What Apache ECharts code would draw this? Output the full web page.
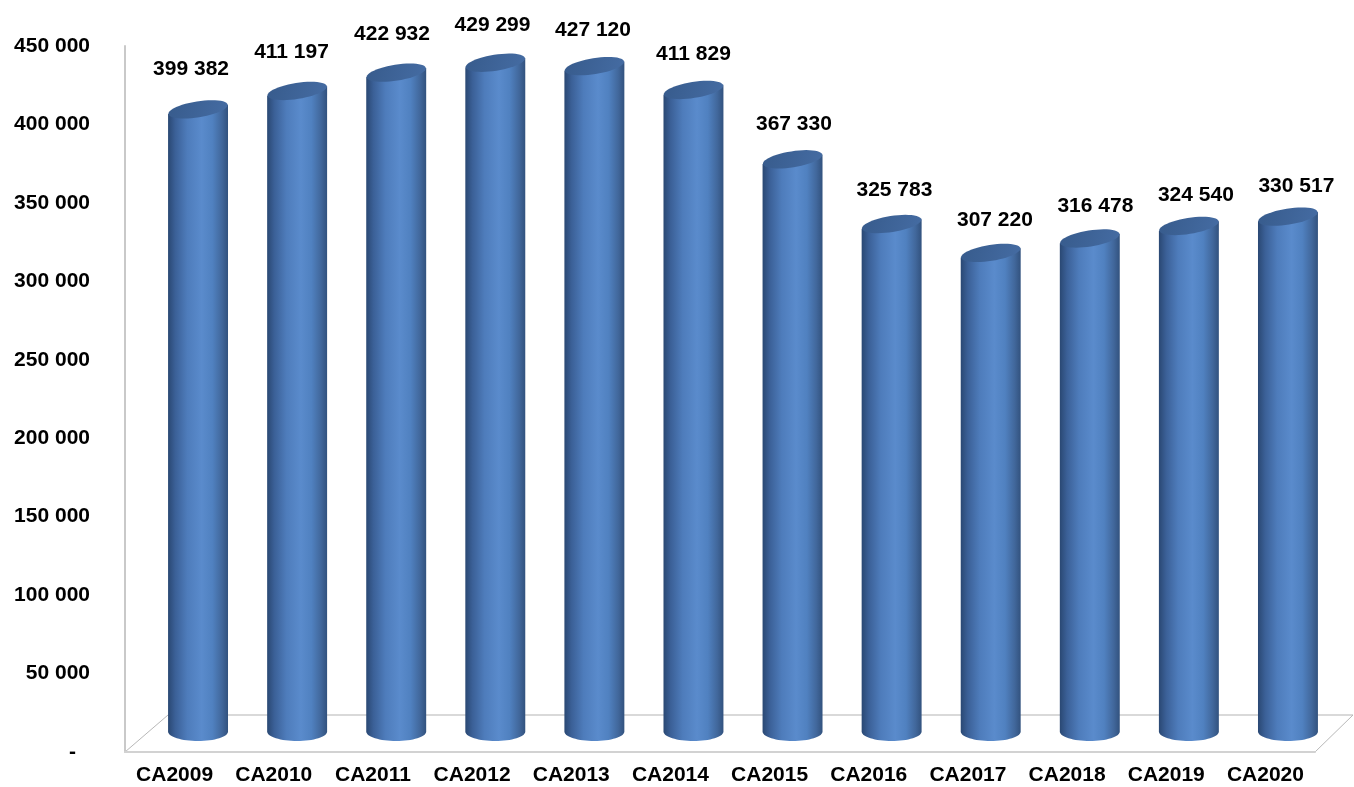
<!DOCTYPE html>
<html>
<head>
<meta charset="utf-8">
<title>CA 2009–2020</title>
<script src="https://cdn.jsdelivr.net/npm/echarts@6/dist/echarts.min.js"></script>
<style>
  html, body { margin: 0; padding: 0; background: #ffffff; }
  #chart { width: 1354px; height: 787px; }
</style>
</head>
<body>
<div id="chart"></div>
<script>
// Annual turnover figures
const categories = ['CA2009', 'CA2010', 'CA2011', 'CA2012', 'CA2013', 'CA2014',
                    'CA2015', 'CA2016', 'CA2017', 'CA2018', 'CA2019', 'CA2020'];
const values = [399382, 411197, 422932, 429299, 427120, 411829,
                367330, 325783, 307220, 316478, 324540, 330517];
const yMin = 0;
const yMax = 450000;
const yStep = 50000;

const FONT = '"Liberation Sans", Arial, Helvetica, sans-serif';

// Thousands separated by a space: 399382 -> "399 382"
function fmt(n) {
  return String(n).replace(/\B(?=(\d{3})+(?!\d))/g, ' ');
}

// Front plane (axes) and back edge of the floor, for the pseudo-3D frame
const front = { left: 125, right: 1315, top: 46, bottom: 752 };
const back = { left: 168, right: 1353, y: 715 };
// Plane where the cylinders stand (half-way into the floor)
const barPlane = { left: 148.5, width: 1189, top: 30.5, height: 701 };

const chart = echarts.init(document.getElementById('chart'), null, { renderer: 'canvas' });

function cylinder(params, api) {
  const i = api.value(0);
  const v = api.value(1);
  const topPt = api.coord([i, v]);
  const basePt = api.coord([i, 0]);
  const band = api.size([1, 0])[0];
  const cx = topPt[0];
  const cy = topPt[1];
  const by = basePt[1];
  const rx = band * 0.605 / 2;
  const ryTop = 8;
  const ryBot = 9.5;
  const tilt = 9 * Math.PI / 180;

  // top cap, slightly tilted for perspective
  const cap = [];
  for (let k = 0; k < 48; k++) {
    const t = (k / 48) * Math.PI * 2;
    const ex = rx * Math.cos(t);
    const ey = ryTop * Math.sin(t);
    cap.push([cx + ex * Math.cos(tilt) + ey * Math.sin(tilt),
              cy - ex * Math.sin(tilt) + ey * Math.cos(tilt)]);
  }
  const capL = [cx - rx, cy + rx * Math.sin(tilt)];
  const capR = [cx + rx, cy - rx * Math.sin(tilt)];

  // body: sides plus the front half of the base ellipse
  const body = [capL, [cx - rx, by]];
  for (let k = 1; k < 32; k++) {
    const t = Math.PI - (k / 32) * Math.PI;
    body.push([cx + rx * Math.cos(t), by + ryBot * Math.sin(t)]);
  }
  body.push([cx + rx, by], capR);

  // value label, following the perspective drift across the chart
  const dx = -7 + 1.4 * i;
  const dy = 40 - 0.9 * i;

  return {
    type: 'group',
    children: [
      {
        type: 'polygon',
        shape: { points: body },
        style: {
          fill: new echarts.graphic.LinearGradient(0, 0, 1, 0, [
            { offset: 0, color: '#2a4873' },
            { offset: 0.12, color: '#3b6097' },
            { offset: 0.32, color: '#4e7cbb' },
            { offset: 0.56, color: '#5a8bcc' },
            { offset: 0.74, color: '#5081c0' },
            { offset: 0.9, color: '#41679b' },
            { offset: 1, color: '#32527e' }
          ]),
          stroke: null
        }
      },
      {
        type: 'polygon',
        shape: { points: cap },
        style: {
          fill: new echarts.graphic.LinearGradient(0, 0, 1, 1, [
            { offset: 0, color: '#375b8c' },
            { offset: 1, color: '#456ca3' }
          ]),
          stroke: null
        }
      },
      {
        type: 'text',
        style: {
          text: fmt(v),
          x: cx + dx,
          y: cy - dy,
          align: 'center',
          verticalAlign: 'middle',
          textAlign: 'center',
          textVerticalAlign: 'middle',
          fill: '#000000',
          font: 'bold 21px ' + FONT
        }
      }
    ]
  };
}

const option = {
  animation: false,
  backgroundColor: '#ffffff',
  grid: [
    { left: front.left, top: front.top, width: front.right - front.left,
      height: front.bottom - front.top, containLabel: false },
    { left: barPlane.left, top: barPlane.top, width: barPlane.width,
      height: barPlane.height, containLabel: false }
  ],
  xAxis: [
    {
      type: 'category', gridIndex: 0, data: categories, boundaryGap: true,
      axisLine: { show: true, lineStyle: { color: '#d2d2d2', width: 2 } },
      axisTick: { show: false },
      splitLine: { show: false },
      axisLabel: {
        interval: 0, margin: 13, color: '#000000',
        fontFamily: FONT, fontSize: 21, fontWeight: 'bold'
      }
    },
    {
      type: 'category', gridIndex: 1, data: categories, boundaryGap: true,
      show: false
    }
  ],
  yAxis: [
    {
      type: 'value', gridIndex: 0, min: yMin, max: yMax, interval: yStep,
      axisLine: { show: true, lineStyle: { color: '#c9c9c9', width: 2 } },
      axisTick: { show: false },
      splitLine: { show: false },
      axisLabel: {
        margin: 35, color: '#000000',
        fontFamily: FONT, fontSize: 21, fontWeight: 'bold',
        formatter: function (v) { return v === 0 ? '{d|-}' : fmt(v); },
        rich: {
          d: { fontFamily: FONT, fontSize: 21, fontWeight: 'bold', color: '#000000',
               padding: [0, 14, 0, 0] }
        }
      }
    },
    {
      type: 'value', gridIndex: 1, min: yMin, max: yMax, interval: yStep,
      show: false
    }
  ],
  graphic: [
    // back edge of the floor and its two side edges
    { type: 'line', z: 0, silent: true,
      shape: { x1: back.left, y1: back.y, x2: back.right, y2: back.y },
      style: { stroke: '#cccccc', lineWidth: 1.5 } },
    { type: 'line', z: 0, silent: true,
      shape: { x1: front.left, y1: front.bottom, x2: back.left, y2: back.y },
      style: { stroke: '#b8b8b8', lineWidth: 1 } },
    { type: 'line', z: 0, silent: true,
      shape: { x1: front.right, y1: front.bottom, x2: back.right, y2: back.y },
      style: { stroke: '#b8b8b8', lineWidth: 1 } }
  ],
  series: [
    {
      type: 'custom',
      xAxisIndex: 1,
      yAxisIndex: 1,
      z: 5,
      renderItem: cylinder,
      encode: { x: 0, y: 1 },
      data: values.map(function (v, i) { return [i, v]; })
    }
  ]
};

chart.setOption(option);
</script>
</body>
</html>
